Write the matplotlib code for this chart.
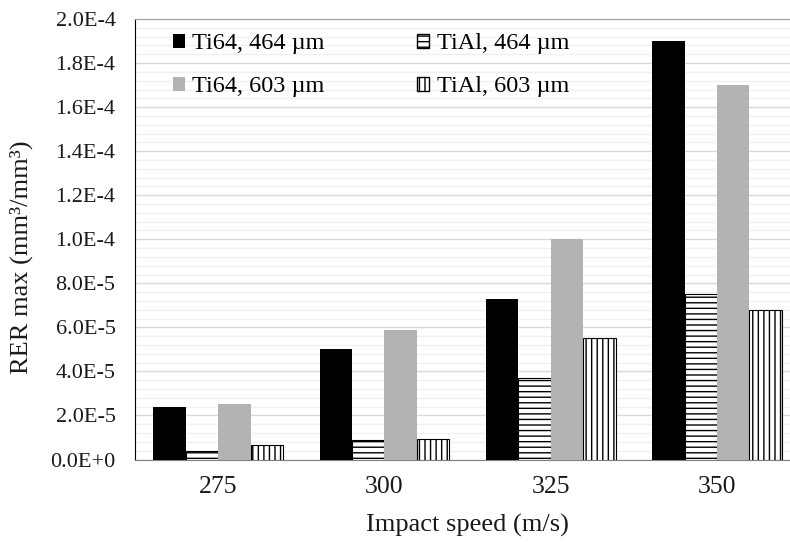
import numpy as np
import matplotlib.pyplot as plt
from matplotlib.ticker import MultipleLocator
from matplotlib.patches import Patch

plt.rcParams['font.family'] = ['Liberation Serif', 'DejaVu Serif']
plt.rcParams['hatch.linewidth'] = 1.0

speeds = ['275', '300', '325', '350']
ti64_464 = [2.4e-5, 5.0e-5, 7.3e-5, 1.9e-4]
tial_464 = [0.4e-5, 0.9e-5, 3.7e-5, 7.5e-5]
ti64_603 = [2.5e-5, 5.9e-5, 1.0e-4, 1.7e-4]
tial_603 = [0.65e-5, 0.95e-5, 5.5e-5, 6.8e-5]
yticks = [0, 2e-5, 4e-5, 6e-5, 8e-5, 1e-4, 1.2e-4, 1.4e-4, 1.6e-4, 1.8e-4, 2e-4]
ytick_labels = ['0.0E+0', '2.0E-5', '4.0E-5', '6.0E-5', '8.0E-5', '1.0E-4',
                '1.2E-4', '1.4E-4', '1.6E-4', '1.8E-4', '2.0E-4']

fig = plt.figure(figsize=(7.9, 5.42), dpi=100)
# plot area runs a little past the right edge of the picture, as in the original
ax = fig.add_axes([0.1709, 0.1522, 0.842, 0.8127])

x = np.arange(len(speeds))
w = 0.195
gray = '#b3b3b3'

ax.bar(x - 1.5 * w, ti64_464, w, color='black', zorder=3)
ax.bar(x - 0.5 * w, tial_464, w, color='white', edgecolor='black', hatch='---', linewidth=0.8, zorder=3)
ax.bar(x + 0.5 * w, ti64_603, w, color=gray, zorder=3)
ax.bar(x + 1.5 * w, tial_603, w, color='white', edgecolor='black', hatch='|||', linewidth=0.8, zorder=3)

ax.set_xlim(-0.5, 3.5)
ax.set_ylim(0, 2e-4)
ax.set_xticks(x)
ax.set_xticklabels(speeds)
ax.set_yticks(yticks)
ax.set_yticklabels(ytick_labels)
ax.yaxis.set_minor_locator(MultipleLocator(4e-6))
ax.grid(axis='y', which='major', color='#d9d9d9', linewidth=1.0, zorder=0)
ax.grid(axis='y', which='minor', color='#f0f0f0', linewidth=1.0, zorder=0)
ax.tick_params(axis='both', which='both', length=0, colors='#1a1a1a')
ax.tick_params(axis='x', labelsize=18.5, pad=12)
ax.tick_params(axis='y', labelsize=16, pad=14)

ax.spines['right'].set_visible(False)
ax.spines['top'].set_color('#a0a0a0')
ax.spines['left'].set_color('black')
ax.spines['bottom'].set_color('#7f7f7f')

ax.set_xlabel('Impact speed (m/s)', fontsize=19, labelpad=11, color='#1a1a1a')
ax.set_ylabel('RER max (mm³/mm³)', fontsize=19, color='#1a1a1a')
ax.yaxis.set_label_coords(-0.153, 0.46)

handles = [
    Patch(facecolor='black', label='Ti64, 464 µm'),
    Patch(facecolor=gray, label='Ti64, 603 µm'),
    Patch(facecolor='white', edgecolor='black', hatch='---', label='TiAl, 464 µm'),
    Patch(facecolor='white', edgecolor='black', hatch='|||', label='TiAl, 603 µm'),
]
ax.legend(handles=handles, ncol=2, loc='upper left', bbox_to_anchor=(0.024, 1.017),
          frameon=False, fontsize=17.5, handlelength=0.5, handleheight=0.5,
          handletextpad=0.3, labelspacing=0.9, columnspacing=3.8)

fig.savefig('out.png', dpi=100)
